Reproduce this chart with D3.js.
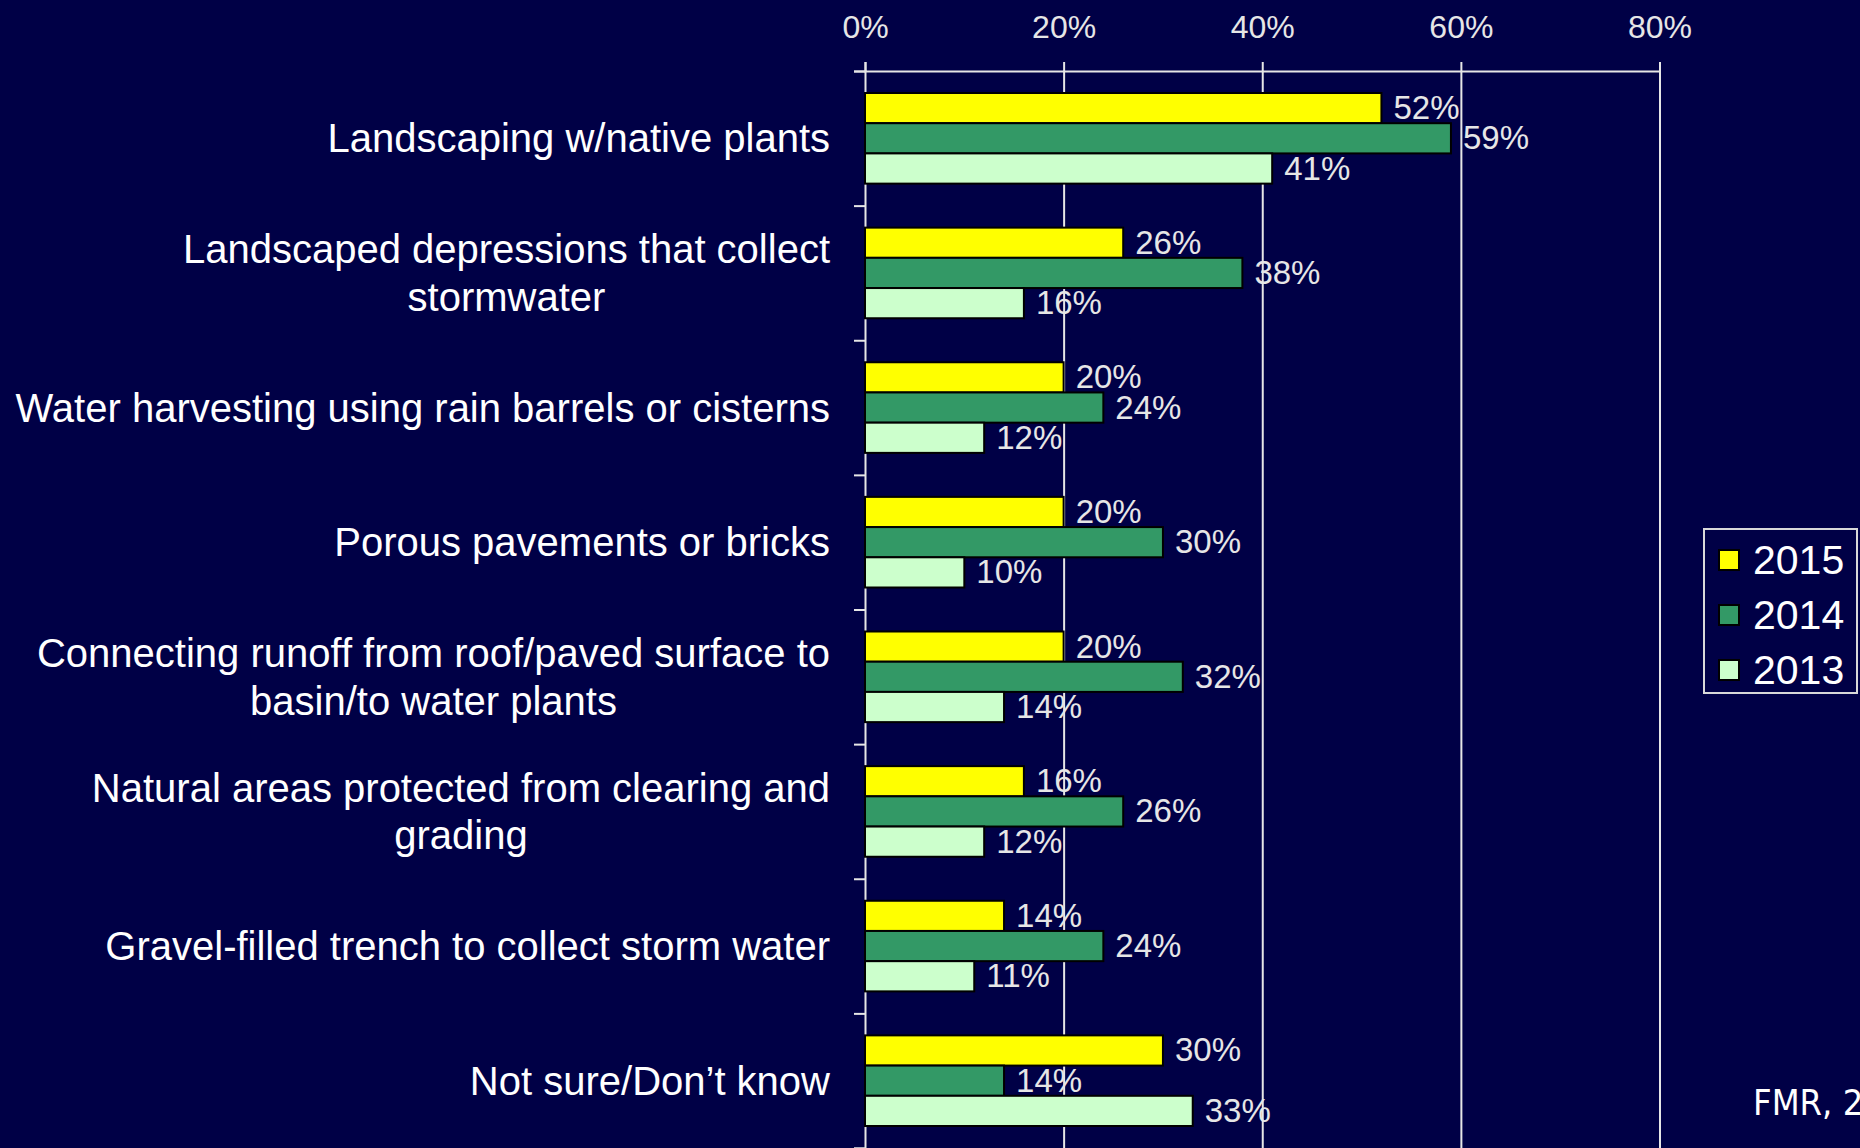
<!DOCTYPE html>
<html>
<head>
<meta charset="utf-8">
<script src="https://cdn.jsdelivr.net/npm/d3@7"></script>
<style>
body { margin: 0; background: #000046; overflow: hidden; }
</style>
</head>
<body>
<div id="mainArea"></div>
<script>
// category labels, one array of lines per group
var categories = [
  ["Landscaping w/native plants"],
  ["Landscaped depressions that collect", "stormwater"],
  ["Water harvesting using rain barrels or cisterns"],
  ["Porous pavements or bricks"],
  ["Connecting runoff from roof/paved surface to", "basin/to water plants"],
  ["Natural areas protected from clearing and", "grading"],
  ["Gravel-filled trench to collect storm water"],
  ["Not sure/Don\u2019t know"]
];
var years = ["2015", "2014", "2013"];
var values2015 = [52, 26, 20, 20, 20, 16, 14, 30];
var values2014 = [59, 38, 24, 30, 32, 26, 24, 14];
var values2013 = [41, 16, 12, 10, 14, 12, 11, 33];
var tickValues = [0, 20, 40, 60, 80];
var sourceNote = "FMR, 2015";

function mainInit()
{
  var width = 1860, height = 1148;
  var left = 865, right = 1659.5, top = 71, bottom = 1148;
  var colors = {"2015": "#ffff00", "2014": "#339966", "2013": "#ccffcc"};
  var series = {"2015": values2015, "2014": values2014, "2013": values2013};

  var vis = d3.select("#mainArea").append("svg")
      .attr("width", width)
      .attr("height", height);

  vis.append("rect").attr("width", width).attr("height", height).attr("fill", "#000046");

  var x = d3.scaleLinear().domain([0, 80]).range([left, right]);
  var y = d3.scaleBand().domain(d3.range(categories.length)).range([top, bottom]);
  var ySub = d3.scaleBand().domain(years).range([22, y.bandwidth() - 22]);

  // gridlines
  vis.append("g")
     .attr("transform", "translate(0," + top + ")")
     .call(d3.axisBottom(x).tickValues(tickValues.slice(1)).tickSize(bottom - top).tickFormat(""))
     .call(function(g) { g.select(".domain").remove(); })
     .selectAll("line").attr("stroke", "#e6e6e6").attr("stroke-width", 2);

  // top axis
  var topAxis = vis.append("g")
     .attr("transform", "translate(0," + top + ")")
     .call(d3.axisTop(x).tickValues(tickValues).tickSize(9).tickPadding(24).tickFormat(function(d) { return d + "%"; }));
  topAxis.select(".domain").attr("stroke", "#e6e6e6").attr("stroke-width", 2);
  topAxis.selectAll("line").attr("stroke", "#e6e6e6").attr("stroke-width", 2);
  topAxis.selectAll("text")
     .attr("fill", "#e6e6e6")
     .style("font-family", "'Liberation Sans', Arial, sans-serif")
     .style("font-size", "32px");

  // left axis with ticks at group boundaries
  var yEdge = d3.scaleLinear().domain([0, categories.length]).range([top, bottom]);
  var leftAxis = vis.append("g")
     .attr("transform", "translate(" + left + ",0)")
     .call(d3.axisLeft(yEdge).tickValues(d3.range(categories.length + 1)).tickSize(11).tickFormat(""));
  leftAxis.select(".domain").attr("stroke", "#e6e6e6").attr("stroke-width", 2);
  leftAxis.selectAll("line").attr("stroke", "#e6e6e6").attr("stroke-width", 2);

  // bars
  var groups = vis.selectAll("g.group")
     .data(categories)
     .enter()
     .append("g")
     .attr("class", "group")
     .attr("transform", function(d, i) { return "translate(0," + y(i) + ")"; });

  groups.each(function(d, i) {
    var g = d3.select(this);
    years.forEach(function(yr) {
      var v = series[yr][i];
      g.append("rect")
       .attr("x", x(0))
       .attr("y", ySub(yr))
       .attr("width", x(v) - x(0))
       .attr("height", ySub.bandwidth())
       .attr("fill", colors[yr])
       .attr("stroke", "#000")
       .attr("stroke-width", 2);
      g.append("text")
       .attr("x", x(v) + 12)
       .attr("y", ySub(yr) + ySub.bandwidth() / 2 + 11)
       .attr("fill", "#e6e6e6")
       .style("font-family", "'Liberation Sans', Arial, sans-serif")
       .style("font-size", "33px")
       .text(v + "%");
    });
  });

  // category labels: block right-aligned, lines centred on each other
  var labelRight = 830, lineGap = 47.5, labelSize = 40;
  categories.forEach(function(lines, i) {
    var cy = y(i) + y.bandwidth() / 2;
    var t = vis.append("g");
    var texts = lines.map(function(line, k) {
      return t.append("text")
        .attr("y", cy + (k - (lines.length - 1) / 2) * lineGap + labelSize * 0.35)
        .attr("fill", "#ffffff")
        .attr("text-anchor", "middle")
        .style("font-family", "'Liberation Sans', Arial, sans-serif")
        .style("font-size", labelSize + "px")
        .text(line);
    });
    var maxW = d3.max(texts, function(s) { return s.node().getComputedTextLength(); });
    texts.forEach(function(s) { s.attr("x", labelRight - maxW / 2); });
  });

  // legend
  var legend = vis.append("g");
  legend.append("rect")
     .attr("x", 1704).attr("y", 529).attr("width", 153).attr("height", 164)
     .attr("fill", "none").attr("stroke", "#d9d9d9").attr("stroke-width", 2);
  years.forEach(function(yr, k) {
    var cy = 560 + k * 55;
    legend.append("rect")
      .attr("x", 1719).attr("y", cy - 10).attr("width", 20).attr("height", 20)
      .attr("fill", colors[yr]).attr("stroke", "#000").attr("stroke-width", 2);
    legend.append("text")
      .attr("x", 1753).attr("y", cy + 14)
      .attr("fill", "#ffffff")
      .style("font-family", "'Liberation Sans', Arial, sans-serif")
      .style("font-size", "41px")
      .text(yr);
  });

  // source note, runs off the right edge as in the slide
  vis.append("text")
     .attr("x", 1753).attr("y", 1115)
     .attr("fill", "#ffffff")
     .style("font-family", "'DejaVu Sans Condensed', 'DejaVu Sans', sans-serif")
     .style("font-size", "36px")
     .text(sourceNote);
};

window.onload = mainInit;
</script>
</body>
</html>
